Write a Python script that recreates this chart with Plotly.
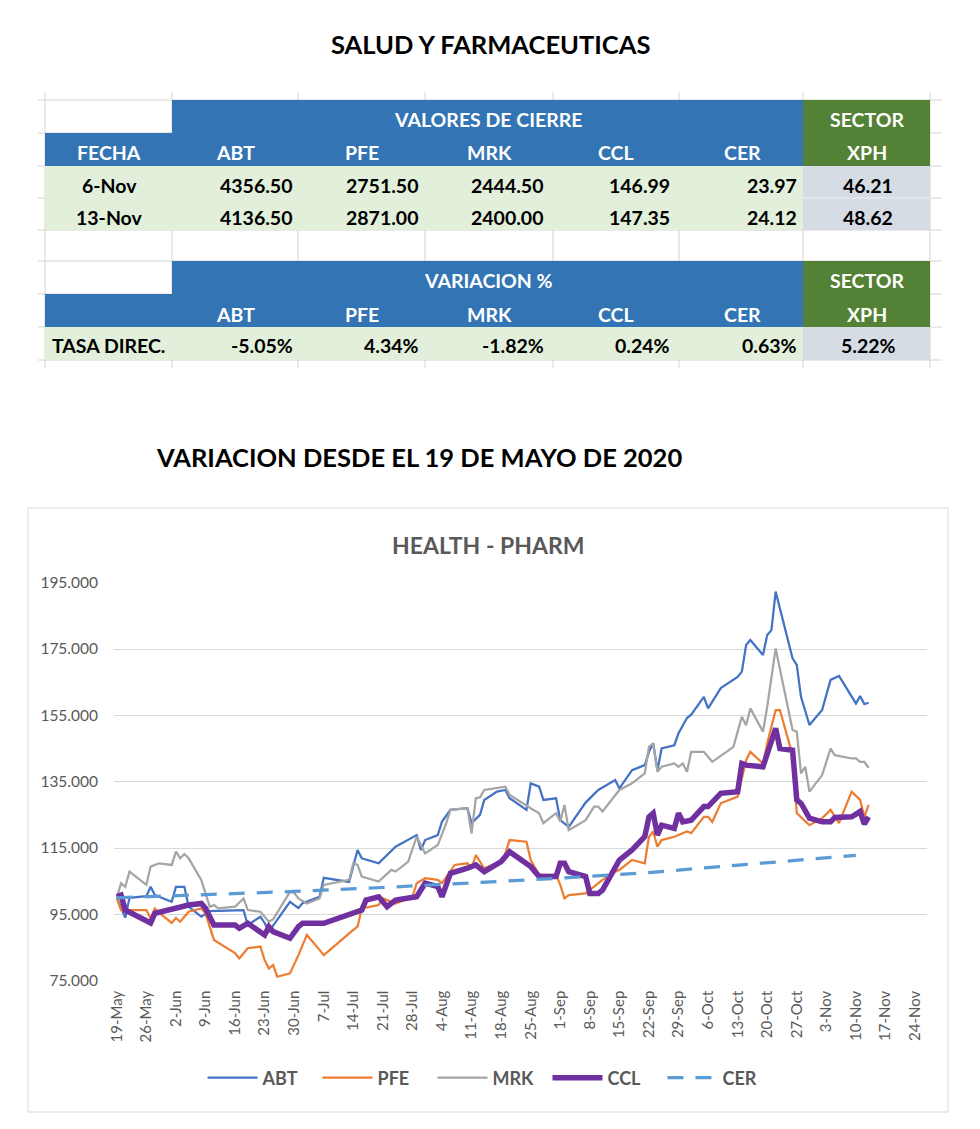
import plotly.graph_objects as go

# The page body keeps an 8px margin, so the figure is sized to make the page exactly 980x1129.
OX, OY = 8, 8
FW, FH = 980 - OX, 1129 - 2 * OY
def px(x): return (x - OX) / FW
def py(y): return 1 - (y - OY) / FH

FONT = "Lato"
GRAY_TXT = "#595959"

# ---------------- table data ----------------
table1_group = "VALORES DE CIERRE"
table2_group = "VARIACION %"
sector_top = "SECTOR"
col_headers = ["ABT", "PFE", "MRK", "CCL", "CER"]
sector_name = "XPH"
fecha_label = "FECHA"
close_dates = ["6-Nov", "13-Nov"]
close_values = [
    ["4356.50", "2751.50", "2444.50", "146.99", "23.97"],
    ["4136.50", "2871.00", "2400.00", "147.35", "24.12"],
]
close_sector = ["46.21", "48.62"]
var_label = "TASA DIREC."
var_values = ["-5.05%", "4.34%", "-1.82%", "0.24%", "0.63%"]
var_sector = "5.22%"

# ---------------- chart data ----------------
abt_dates = ["2020-05-19","2020-05-21","2020-05-22","2020-05-26","2020-05-27","2020-05-28","2020-06-01","2020-06-02",
             "2020-06-04","2020-06-05","2020-06-08","2020-06-10","2020-06-18","2020-06-19","2020-06-22","2020-06-23",
             "2020-06-24","2020-06-29","2020-07-01","2020-07-02","2020-07-06","2020-07-07","2020-07-13","2020-07-15",
             "2020-07-16","2020-07-20","2020-07-24","2020-07-27","2020-07-29","2020-07-30","2020-07-31","2020-08-03",
             "2020-08-04","2020-08-06","2020-08-10","2020-08-11","2020-08-13","2020-08-14","2020-08-17","2020-08-19",
             "2020-08-20","2020-08-24","2020-08-25","2020-08-27","2020-08-28","2020-08-31","2020-09-01","2020-09-03",
             "2020-09-07","2020-09-10","2020-09-14","2020-09-15","2020-09-18","2020-09-21","2020-09-22","2020-09-23",
             "2020-09-24","2020-09-25","2020-09-28","2020-09-29","2020-10-01","2020-10-02","2020-10-05","2020-10-06",
             "2020-10-09","2020-10-13","2020-10-14","2020-10-15","2020-10-16","2020-10-19","2020-10-20","2020-10-21",
             "2020-10-22","2020-10-26","2020-10-27","2020-10-28","2020-10-30","2020-11-02","2020-11-04","2020-11-06",
             "2020-11-10","2020-11-11","2020-11-12","2020-11-13"]
abt_values = [100, 94, 100, 100.5, 103.3, 100.8, 98.8, 103.3,
              103.3, 97.3, 94.3, 96, 96.3, 91.8, 94.3, 92.4,
              89.8, 98.8, 96.9, 98.4, 100.3, 106, 104.8, 114.4,
              111.9, 110.4, 115.4, 117.4, 118.9, 114.4, 117.4, 118.9,
              123, 126.5, 127, 122.5, 125, 129.5, 132, 132.5,
              130, 126.5, 134.5, 133.5, 129.5, 130, 123.4, 121.4,
              128.7, 132.5, 135.5, 133, 138.5, 140, 144, 146.6,
              138.5, 145, 146, 149.6, 154.2, 155.2, 160.6, 157.1,
              163.2, 166.6, 168.2, 176.2, 177.7, 173.2, 179.2, 180.7,
              192.3, 172.2, 170.2, 160.6, 152.1, 156.6, 165.7, 166.9,
              158.6, 160.8, 158.4, 158.8]

pfe_dates = ["2020-05-19","2020-05-20","2020-05-26","2020-05-27","2020-05-28","2020-05-29","2020-06-01","2020-06-02",
             "2020-06-03","2020-06-05","2020-06-08","2020-06-09","2020-06-11","2020-06-16","2020-06-17","2020-06-19",
             "2020-06-22","2020-06-23","2020-06-24","2020-06-25","2020-06-26","2020-06-29","2020-07-01","2020-07-03",
             "2020-07-06","2020-07-07","2020-07-14","2020-07-15","2020-07-16","2020-07-20","2020-07-21","2020-07-24",
             "2020-07-28","2020-07-29","2020-07-31","2020-08-03","2020-08-04","2020-08-07","2020-08-10","2020-08-11",
             "2020-08-12","2020-08-14","2020-08-18","2020-08-19","2020-08-20","2020-08-24","2020-08-25","2020-08-27",
             "2020-08-31","2020-09-01","2020-09-02","2020-09-03","2020-09-07","2020-09-09","2020-09-11","2020-09-14",
             "2020-09-15","2020-09-18","2020-09-21","2020-09-22","2020-09-23","2020-09-24","2020-09-25","2020-09-28",
             "2020-10-01","2020-10-02","2020-10-05","2020-10-06","2020-10-07","2020-10-09","2020-10-13","2020-10-15",
             "2020-10-16","2020-10-19","2020-10-20","2020-10-22","2020-10-23","2020-10-26","2020-10-27","2020-10-30",
             "2020-11-02","2020-11-04","2020-11-06","2020-11-09","2020-11-11","2020-11-12","2020-11-13"]
pfe_values = [100, 96.3, 96.3, 93.8, 96.8, 95.5, 92.4, 93.9,
              92.8, 95.8, 96.8, 95.3, 87.3, 83.3, 81.7, 84.8,
              85.3, 81.2, 78.7, 79.7, 76.2, 77.2, 82.7, 88.8,
              84.3, 82.7, 90.3, 91.3, 96.8, 97.8, 99.8, 98.3,
              100.3, 104.4, 105.9, 105.4, 104.4, 109.9, 110.4, 108.9,
              112.9, 108.9, 110.9, 113.4, 117.4, 116.9, 111.4, 106.9,
              106.9, 103.9, 99.8, 100.8, 101.3, 103.3, 105.4, 107.9,
              108.4, 111.4, 110.4, 118.4, 120, 115.4, 117.4, 118.4,
              120, 119.5, 124.4, 124.4, 122.9, 128.5, 130.5, 141.5,
              144, 140.5, 146.6, 156.6, 156.6, 143, 125.5, 121.9,
              124, 126.5, 122.5, 132, 129.5, 124.4, 128]

mrk_dates = ["2020-05-19","2020-05-20","2020-05-21","2020-05-22","2020-05-26","2020-05-27","2020-05-29","2020-06-01",
             "2020-06-02","2020-06-03","2020-06-04","2020-06-05","2020-06-08","2020-06-10","2020-06-11","2020-06-12",
             "2020-06-16","2020-06-18","2020-06-19","2020-06-22","2020-06-24","2020-06-25","2020-06-29","2020-06-30",
             "2020-07-01","2020-07-03","2020-07-06","2020-07-07","2020-07-13","2020-07-14","2020-07-15","2020-07-16",
             "2020-07-20","2020-07-23","2020-07-24","2020-07-27","2020-07-29","2020-07-31","2020-08-03","2020-08-05",
             "2020-08-06","2020-08-10","2020-08-11","2020-08-12","2020-08-13","2020-08-14","2020-08-19","2020-08-20",
             "2020-08-25","2020-08-27","2020-08-28","2020-08-31","2020-09-01","2020-09-02","2020-09-03","2020-09-07",
             "2020-09-09","2020-09-10","2020-09-11","2020-09-15","2020-09-18","2020-09-21","2020-09-22","2020-09-23",
             "2020-09-24","2020-09-25","2020-09-28","2020-09-29","2020-09-30","2020-10-01","2020-10-02","2020-10-05",
             "2020-10-07","2020-10-12","2020-10-13","2020-10-14","2020-10-15","2020-10-16","2020-10-19","2020-10-20",
             "2020-10-22","2020-10-26","2020-10-27","2020-10-28","2020-10-29","2020-10-30","2020-11-02","2020-11-04",
             "2020-11-05","2020-11-09","2020-11-10","2020-11-11","2020-11-12","2020-11-13"]
mrk_values = [100, 104.4, 103.3, 107.9, 103.9, 109.4, 110.4, 109.9,
              113.9, 111.9, 113.2, 111.9, 105.4, 97.3, 97.8, 96.8,
              97.3, 99.8, 96.3, 95.8, 92.8, 93.5, 101.8, 101.5,
              99.8, 98.3, 99.8, 103.9, 105.4, 110.4, 109.9, 106.4,
              104.9, 108.4, 107.9, 110.9, 118.4, 113.4, 115.9, 122.5,
              126.5, 127, 119.4, 130, 130.3, 132.5, 133.5, 131,
              127, 125.5, 122.5, 125.5, 123, 128, 120.4, 123.4,
              127.5, 127.5, 126, 132.5, 134.5, 137.5, 145.5, 146.6,
              138, 139.5, 140.5, 139.5, 140.5, 138, 144, 144,
              141, 145.5, 150.1, 154.6, 152, 157.1, 150.1, 157.6,
              175.2, 150.6, 150.1, 137.5, 139.5, 132, 137, 145,
              143, 142, 142, 141, 141, 139.2]

ccl_dates = ["2020-05-19","2020-05-20","2020-05-21","2020-05-27","2020-05-28","2020-06-05","2020-06-08","2020-06-09",
             "2020-06-11","2020-06-16","2020-06-17","2020-06-19","2020-06-23","2020-06-24","2020-06-25","2020-06-29",
             "2020-07-01","2020-07-02","2020-07-07","2020-07-14","2020-07-16","2020-07-17","2020-07-20","2020-07-22",
             "2020-07-24","2020-07-29","2020-07-31","2020-08-03","2020-08-04","2020-08-05","2020-08-06","2020-08-10",
             "2020-08-12","2020-08-14","2020-08-18","2020-08-20","2020-08-25","2020-08-27","2020-08-31","2020-09-01",
             "2020-09-02","2020-09-03","2020-09-07","2020-09-08","2020-09-10","2020-09-11","2020-09-14","2020-09-15",
             "2020-09-18","2020-09-21","2020-09-22","2020-09-23","2020-09-24","2020-09-25","2020-09-28","2020-09-29",
             "2020-09-30","2020-10-02","2020-10-05","2020-10-06","2020-10-09","2020-10-13","2020-10-14","2020-10-15",
             "2020-10-19","2020-10-22","2020-10-23","2020-10-26","2020-10-27","2020-10-28","2020-10-30","2020-11-02",
             "2020-11-04","2020-11-05","2020-11-09","2020-11-11","2020-11-12","2020-11-13"]
ccl_values = [100.3, 100.8, 96.3, 92.4, 95.3, 97.8, 98.3, 96.8,
              91.8, 91.8, 90.8, 92.3, 88.8, 91.3, 89.8, 87.8,
              91.3, 92.3, 92.3, 95.3, 96.3, 99.3, 100.3, 97.3,
              99.3, 100.3, 104.4, 103.4, 100.3, 103.9, 107.4, 108.9,
              109.9, 107.9, 110.9, 113.9, 109.4, 106.4, 106.4, 110.4,
              110.4, 107.9, 106.4, 101.3, 101.3, 102.3, 109.4, 111.4,
              114.4, 118.4, 124.4, 125.5, 118.9, 121.9, 120.9, 125.5,
              122.9, 123.4, 127.5, 127.5, 131.5, 132, 140.5, 140,
              139.5, 151.1, 145, 144.5, 129.5, 128.5, 124, 122.9,
              122.9, 124.2, 124.4, 126, 122.2, 124.4]

cer_dates = ["2020-05-19","2020-06-09","2020-06-30","2020-07-21","2020-08-11","2020-09-01","2020-09-22",
             "2020-10-13","2020-11-03","2020-11-10"]
cer_values = [100, 100.9, 101.9, 103.1, 104.5, 105.9, 107.6, 109.8, 111.9, 112.8]

series = [
    ("ABT", abt_dates, abt_values, "#4472C4", 2.25, "solid"),
    ("PFE", pfe_dates, pfe_values, "#ED7D31", 2.25, "solid"),
    ("MRK", mrk_dates, mrk_values, "#A5A5A5", 2.25, "solid"),
    ("CCL", ccl_dates, ccl_values, "#7030A0", 5.5, "solid"),
    ("CER", cer_dates, cer_values, "#5B9BD5", 3.25, "16px,12px"),
]

x_tick_dates = ["2020-05-19","2020-05-26","2020-06-02","2020-06-09","2020-06-16","2020-06-23","2020-06-30",
                "2020-07-07","2020-07-14","2020-07-21","2020-07-28","2020-08-04","2020-08-11","2020-08-18",
                "2020-08-25","2020-09-01","2020-09-08","2020-09-15","2020-09-22","2020-09-29","2020-10-06",
                "2020-10-13","2020-10-20","2020-10-27","2020-11-03","2020-11-10","2020-11-17","2020-11-24"]
x_tick_text = ["19-May","26-May","2-Jun","9-Jun","16-Jun","23-Jun","30-Jun","7-Jul","14-Jul","21-Jul",
               "28-Jul","4-Aug","11-Aug","18-Aug","25-Aug","1-Sep","8-Sep","15-Sep","22-Sep","29-Sep",
               "6-Oct","13-Oct","20-Oct","27-Oct","3-Nov","10-Nov","17-Nov","24-Nov"]
y_tick_vals = [75, 95, 115, 135, 155, 175, 195]
y_tick_text = ["75.000", "95.000", "115.000", "135.000", "155.000", "175.000", "195.000"]

fig = go.Figure()
for name, d, v, c, w, dash in series:
    fig.add_trace(go.Scatter(x=d, y=v, mode="lines", name=name,
                             line=dict(color=c, width=w, dash=dash)))

shapes = []
annotations = []

def rect(x0, y0, x1, y1, fill):
    shapes.append(dict(type="rect", xref="paper", yref="paper",
                       x0=px(x0), x1=px(x1), y0=py(y1), y1=py(y0),
                       fillcolor=fill, line=dict(color=fill, width=0), layer="above"))

def hline(x0, x1, y, color, w=1):
    shapes.append(dict(type="line", xref="paper", yref="paper",
                       x0=px(x0), x1=px(x1), y0=py(y), y1=py(y), line=dict(color=color, width=w)))

def vline(x, y0, y1, color, w=1):
    shapes.append(dict(type="line", xref="paper", yref="paper",
                       x0=px(x), x1=px(x), y0=py(y0), y1=py(y1), line=dict(color=color, width=w)))

def text(x, y, s, size=19.5, color="black", anchor="center"):
    annotations.append(dict(xref="paper", yref="paper", x=px(x), y=py(y), text=f"<b>{s}</b>",
                            showarrow=False, xanchor=anchor, yanchor="middle",
                            font=dict(family=FONT, size=size, color=color)))

BLUE = "#3374B5"
GREEN = "#538135"
LGREEN = "#E2EFDA"
LGRAY = "#D6DCE4"
GRID = "#D4D4D4"

cols = [45, 172, 298, 425, 553, 679, 803, 930]
rows_all = [100, 133, 166, 198, 230, 261, 294, 327, 360]

# spreadsheet gridlines
for y in rows_all:
    hline(38, 942, y, GRID)
for x in cols:
    vline(x, 92, 368, GRID)

# table 1
rect(172, 100, 803, 133, BLUE)
rect(45, 133, 803, 166, BLUE)
rect(803, 100, 930, 166, GREEN)
rect(45, 166, 803, 230, LGREEN)
rect(803, 166, 930, 230, LGRAY)
hline(803, 930, 198, "#EEF0F3")
# table 2
rect(172, 261, 803, 294, BLUE)
rect(45, 294, 803, 327, BLUE)
rect(803, 261, 930, 327, GREEN)
rect(45, 327, 803, 360, LGREEN)
rect(803, 327, 930, 360, LGRAY)

hdr_centers = [235, 362, 489, 616, 742]
val_right = [295, 421, 546, 672, 799]

text(488, 120, table1_group, color="white")
text(867, 120, sector_top, color="white")
text(109, 152, fecha_label, color="white")
for cx, h in zip(hdr_centers, col_headers):
    text(cx, 152, h, color="white")
text(867, 152, sector_name, color="white")
for ry, dlab, vals, sv in zip([185, 217], close_dates, close_values, close_sector):
    text(109, ry, dlab)
    for xr, v in zip(val_right, vals):
        text(xr, ry, v, anchor="right")
    text(868, ry, sv)

text(488, 280, table2_group, color="white")
text(867, 280, sector_top, color="white")
for cx, h in zip(hdr_centers, col_headers):
    text(cx, 314, h, color="white")
text(867, 314, sector_name, color="white")
text(50, 345, var_label, anchor="left")
for xr, v in zip(val_right, var_values):
    text(xr, 345, v, anchor="right")
text(868, 345, var_sector)

# titles
text(490, 44, "SALUD Y FARMACEUTICAS", size=25.5)
text(419, 457, "VARIACION DESDE EL 19 DE MAYO DE 2020", size=25.5)
text(488, 545, "HEALTH - PHARM", size=23, color=GRAY_TXT)

# chart border
shapes.append(dict(type="rect", xref="paper", yref="paper", x0=px(28), x1=px(948), y0=py(1112), y1=py(508),
                   line=dict(color="#D9D9D9", width=1), fillcolor="rgba(0,0,0,0)", layer="below"))

fig.update_layout(
    width=FW, height=FH, margin=dict(l=0, r=0, t=0, b=0, autoexpand=False),
    paper_bgcolor="white", plot_bgcolor="white",
    shapes=shapes, annotations=annotations,
    showlegend=True,
    legend=dict(orientation="h", x=px(490), xanchor="center", y=py(1078), yanchor="middle",
                font=dict(family=FONT, size=18, color=GRAY_TXT, weight="bold"),
                bgcolor="rgba(0,0,0,0)", itemwidth=50, entrywidth=50, entrywidthmode="pixels"),
    xaxis=dict(type="date", domain=[px(114), px(927)],
               range=["2020-05-18 08:00", "2020-11-26 20:00"],
               tickmode="array", tickvals=x_tick_dates, ticktext=x_tick_text, tickangle=-90,
               tickfont=dict(family=FONT, size=15, color=GRAY_TXT), automargin=False,
               showgrid=False, zeroline=False, showline=False, ticks="", ticklabelstandoff=6),
    yaxis=dict(domain=[py(980.7), py(582.7)], range=[75, 195],
               tickmode="array", tickvals=y_tick_vals, ticktext=y_tick_text,
               tickfont=dict(family=FONT, size=15.5, color=GRAY_TXT), automargin=False,
               showgrid=True, gridcolor="#D9D9D9", gridwidth=1, zeroline=False, showline=False,
               ticks="", ticklabelstandoff=15),
)

fig.write_html("out.html", config={"displayModeBar": False})
